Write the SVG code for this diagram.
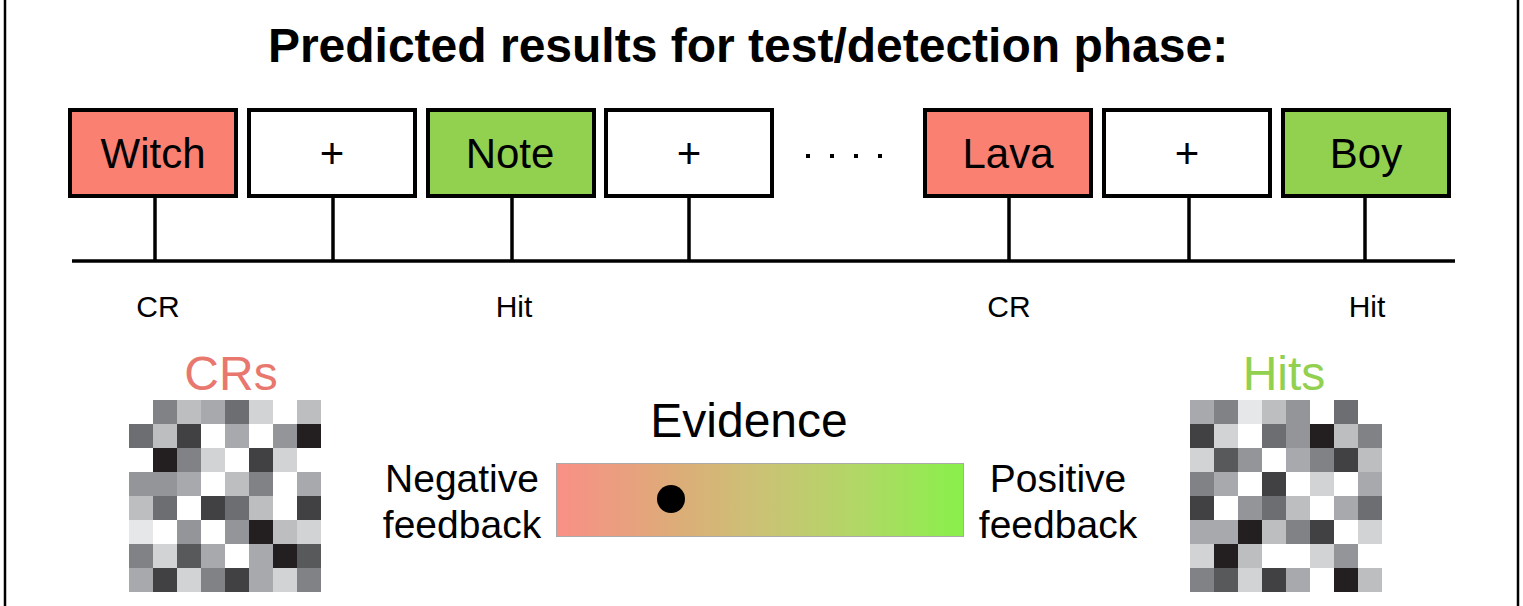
<svg xmlns="http://www.w3.org/2000/svg" width="1523" height="606" viewBox="0 0 1523 606">
<style>
.t{font-family:"Liberation Sans",Arial,sans-serif;fill:#000}
.box{stroke:#000;stroke-width:4}
.red{fill:#fa8072}
.grn{fill:#92d050}
.wht{fill:#fff}
.ln{stroke:#000;stroke-width:3.5;fill:none}
.W{fill:#ffffff}.L1{fill:#e6e7e8}.L2{fill:#d1d3d4}.L3{fill:#bcbec0}.M1{fill:#a7a9ac}.M2{fill:#939598}.M3{fill:#808285}.D1{fill:#6d6e71}.D2{fill:#58595b}.D3{fill:#414042}.D4{fill:#231f20}
</style>
<defs>
<linearGradient id="ev" x1="0" y1="0" x2="1" y2="0">
<stop offset="0" stop-color="#f98f86"/>
<stop offset="0.3" stop-color="#dcad78"/>
<stop offset="0.5" stop-color="#cbc275"/>
<stop offset="0.75" stop-color="#b0d865"/>
<stop offset="1" stop-color="#88f04a"/>
</linearGradient>
</defs>
<rect width="1523" height="606" fill="#fff"/>
<line x1="5" y1="0" x2="5" y2="606" stroke="#000" stroke-width="2.5"/>
<line x1="1518" y1="0" x2="1518" y2="606" stroke="#000" stroke-width="2.5"/>
<text class="t" x="748" y="62" font-size="48" font-weight="bold" text-anchor="middle">Predicted results for test/detection phase:</text>

<g id="connectors">
<line class="ln" x1="72" y1="261" x2="1455" y2="261"/>
<line class="ln" x1="155" y1="196" x2="155" y2="261"/>
<line class="ln" x1="333" y1="196" x2="333" y2="261"/>
<line class="ln" x1="512" y1="196" x2="512" y2="261"/>
<line class="ln" x1="689" y1="196" x2="689" y2="261"/>
<line class="ln" x1="1009" y1="196" x2="1009" y2="261"/>
<line class="ln" x1="1189" y1="196" x2="1189" y2="261"/>
<line class="ln" x1="1365" y1="196" x2="1365" y2="261"/>
</g>

<g id="n-witch"><rect class="box red" x="70" y="110" width="166" height="86"/><text class="t" x="153" y="168" font-size="42" text-anchor="middle">Witch</text></g>
<g id="n-plus1"><rect class="box wht" x="249" y="110" width="166" height="86"/><text class="t" x="332" y="168" font-size="42" text-anchor="middle">+</text></g>
<g id="n-note"><rect class="box grn" x="428" y="110" width="166" height="86"/><text class="t" x="510" y="168" font-size="42" text-anchor="middle">Note</text></g>
<g id="n-plus2"><rect class="box wht" x="606" y="110" width="166" height="86"/><text class="t" x="689" y="168" font-size="42" text-anchor="middle">+</text></g>
<g id="n-dots">
<rect x="806" y="154" width="4" height="4"/><rect x="830" y="154" width="4" height="4"/><rect x="854" y="154" width="4" height="4"/><rect x="878" y="154" width="4" height="4"/>
</g>
<g id="n-lava"><rect class="box red" x="925" y="110" width="166" height="86"/><text class="t" x="1008" y="168" font-size="42" text-anchor="middle">Lava</text></g>
<g id="n-plus3"><rect class="box wht" x="1104" y="110" width="166" height="86"/><text class="t" x="1187" y="168" font-size="42" text-anchor="middle">+</text></g>
<g id="n-boy"><rect class="box grn" x="1283" y="110" width="166" height="86"/><text class="t" x="1366" y="168" font-size="42" text-anchor="middle">Boy</text></g>

<g id="labels">
<text class="t" x="158" y="317" font-size="30" text-anchor="middle">CR</text>
<text class="t" x="514" y="317" font-size="30" text-anchor="middle">Hit</text>
<text class="t" x="1009" y="317" font-size="30" text-anchor="middle">CR</text>
<text class="t" x="1367" y="317" font-size="30" text-anchor="middle">Hit</text>
</g>

<g id="crs">
<text x="231" y="390" font-size="48" text-anchor="middle" style="font-family:'Liberation Sans',Arial,sans-serif;fill:#e8786e">CRs</text>
<g transform="translate(129,400)">
<rect class="W" x="0" y="0" width="24" height="24"/><rect class="M3" x="24" y="0" width="24" height="24"/><rect class="L3" x="48" y="0" width="24" height="24"/><rect class="M1" x="72" y="0" width="24" height="24"/><rect class="D1" x="96" y="0" width="24" height="24"/><rect class="L2" x="120" y="0" width="24" height="24"/><rect class="W" x="144" y="0" width="24" height="24"/><rect class="L3" x="168" y="0" width="24" height="24"/>
<rect class="D1" x="0" y="24" width="24" height="24"/><rect class="L3" x="24" y="24" width="24" height="24"/><rect class="D3" x="48" y="24" width="24" height="24"/><rect class="W" x="72" y="24" width="24" height="24"/><rect class="M1" x="96" y="24" width="24" height="24"/><rect class="W" x="120" y="24" width="24" height="24"/><rect class="M2" x="144" y="24" width="24" height="24"/><rect class="D4" x="168" y="24" width="24" height="24"/>
<rect class="W" x="0" y="48" width="24" height="24"/><rect class="D4" x="24" y="48" width="24" height="24"/><rect class="M3" x="48" y="48" width="24" height="24"/><rect class="L2" x="72" y="48" width="24" height="24"/><rect class="W" x="96" y="48" width="24" height="24"/><rect class="D3" x="120" y="48" width="24" height="24"/><rect class="L2" x="144" y="48" width="24" height="24"/><rect class="W" x="168" y="48" width="24" height="24"/>
<rect class="M2" x="0" y="72" width="24" height="24"/><rect class="M2" x="24" y="72" width="24" height="24"/><rect class="M1" x="48" y="72" width="24" height="24"/><rect class="W" x="72" y="72" width="24" height="24"/><rect class="L3" x="96" y="72" width="24" height="24"/><rect class="M3" x="120" y="72" width="24" height="24"/><rect class="W" x="144" y="72" width="24" height="24"/><rect class="M1" x="168" y="72" width="24" height="24"/>
<rect class="L3" x="0" y="96" width="24" height="24"/><rect class="D1" x="24" y="96" width="24" height="24"/><rect class="W" x="48" y="96" width="24" height="24"/><rect class="D3" x="72" y="96" width="24" height="24"/><rect class="D1" x="96" y="96" width="24" height="24"/><rect class="L3" x="120" y="96" width="24" height="24"/><rect class="W" x="144" y="96" width="24" height="24"/><rect class="D3" x="168" y="96" width="24" height="24"/>
<rect class="L1" x="0" y="120" width="24" height="24"/><rect class="W" x="24" y="120" width="24" height="24"/><rect class="M2" x="48" y="120" width="24" height="24"/><rect class="W" x="72" y="120" width="24" height="24"/><rect class="M2" x="96" y="120" width="24" height="24"/><rect class="D4" x="120" y="120" width="24" height="24"/><rect class="L3" x="144" y="120" width="24" height="24"/><rect class="L2" x="168" y="120" width="24" height="24"/>
<rect class="M3" x="0" y="144" width="24" height="24"/><rect class="L2" x="24" y="144" width="24" height="24"/><rect class="D2" x="48" y="144" width="24" height="24"/><rect class="M1" x="72" y="144" width="24" height="24"/><rect class="W" x="96" y="144" width="24" height="24"/><rect class="M1" x="120" y="144" width="24" height="24"/><rect class="D4" x="144" y="144" width="24" height="24"/><rect class="D2" x="168" y="144" width="24" height="24"/>
<rect class="M1" x="0" y="168" width="24" height="24"/><rect class="D3" x="24" y="168" width="24" height="24"/><rect class="L2" x="48" y="168" width="24" height="24"/><rect class="M3" x="72" y="168" width="24" height="24"/><rect class="D3" x="96" y="168" width="24" height="24"/><rect class="M1" x="120" y="168" width="24" height="24"/><rect class="L2" x="144" y="168" width="24" height="24"/><rect class="M3" x="168" y="168" width="24" height="24"/>
</g>
</g>

<g id="hits">
<text x="1284" y="390" font-size="48" text-anchor="middle" style="font-family:'Liberation Sans',Arial,sans-serif;fill:#92d050">Hits</text>
<g transform="translate(1190,400)">
<rect class="M1" x="0" y="0" width="24" height="24"/><rect class="M3" x="24" y="0" width="24" height="24"/><rect class="L1" x="48" y="0" width="24" height="24"/><rect class="L3" x="72" y="0" width="24" height="24"/><rect class="M2" x="96" y="0" width="24" height="24"/><rect class="W" x="120" y="0" width="24" height="24"/><rect class="D1" x="144" y="0" width="24" height="24"/><rect class="W" x="168" y="0" width="24" height="24"/>
<rect class="D3" x="0" y="24" width="24" height="24"/><rect class="L2" x="24" y="24" width="24" height="24"/><rect class="W" x="48" y="24" width="24" height="24"/><rect class="D1" x="72" y="24" width="24" height="24"/><rect class="M2" x="96" y="24" width="24" height="24"/><rect class="D4" x="120" y="24" width="24" height="24"/><rect class="L3" x="144" y="24" width="24" height="24"/><rect class="M3" x="168" y="24" width="24" height="24"/>
<rect class="L2" x="0" y="48" width="24" height="24"/><rect class="D2" x="24" y="48" width="24" height="24"/><rect class="M2" x="48" y="48" width="24" height="24"/><rect class="W" x="72" y="48" width="24" height="24"/><rect class="M1" x="96" y="48" width="24" height="24"/><rect class="M3" x="120" y="48" width="24" height="24"/><rect class="D3" x="144" y="48" width="24" height="24"/><rect class="L3" x="168" y="48" width="24" height="24"/>
<rect class="M3" x="0" y="72" width="24" height="24"/><rect class="M1" x="24" y="72" width="24" height="24"/><rect class="W" x="48" y="72" width="24" height="24"/><rect class="D3" x="72" y="72" width="24" height="24"/><rect class="W" x="96" y="72" width="24" height="24"/><rect class="L2" x="120" y="72" width="24" height="24"/><rect class="W" x="144" y="72" width="24" height="24"/><rect class="M1" x="168" y="72" width="24" height="24"/>
<rect class="D3" x="0" y="96" width="24" height="24"/><rect class="W" x="24" y="96" width="24" height="24"/><rect class="M2" x="48" y="96" width="24" height="24"/><rect class="D1" x="72" y="96" width="24" height="24"/><rect class="L3" x="96" y="96" width="24" height="24"/><rect class="W" x="120" y="96" width="24" height="24"/><rect class="M1" x="144" y="96" width="24" height="24"/><rect class="D1" x="168" y="96" width="24" height="24"/>
<rect class="M1" x="0" y="120" width="24" height="24"/><rect class="M1" x="24" y="120" width="24" height="24"/><rect class="D4" x="48" y="120" width="24" height="24"/><rect class="L3" x="72" y="120" width="24" height="24"/><rect class="M3" x="96" y="120" width="24" height="24"/><rect class="D3" x="120" y="120" width="24" height="24"/><rect class="W" x="144" y="120" width="24" height="24"/><rect class="L2" x="168" y="120" width="24" height="24"/>
<rect class="L2" x="0" y="144" width="24" height="24"/><rect class="D4" x="24" y="144" width="24" height="24"/><rect class="L3" x="48" y="144" width="24" height="24"/><rect class="W" x="72" y="144" width="24" height="24"/><rect class="W" x="96" y="144" width="24" height="24"/><rect class="L2" x="120" y="144" width="24" height="24"/><rect class="M2" x="144" y="144" width="24" height="24"/><rect class="W" x="168" y="144" width="24" height="24"/>
<rect class="M3" x="0" y="168" width="24" height="24"/><rect class="D2" x="24" y="168" width="24" height="24"/><rect class="L2" x="48" y="168" width="24" height="24"/><rect class="D3" x="72" y="168" width="24" height="24"/><rect class="M1" x="96" y="168" width="24" height="24"/><rect class="W" x="120" y="168" width="24" height="24"/><rect class="D4" x="144" y="168" width="24" height="24"/><rect class="L3" x="168" y="168" width="24" height="24"/>
</g>
</g>

<g id="evidence">
<text class="t" x="749" y="437" font-size="48" text-anchor="middle">Evidence</text>
<rect x="556.5" y="463.5" width="407" height="73" fill="url(#ev)" stroke="#aaaaaa" stroke-width="1"/>
<circle cx="671" cy="499" r="14" fill="#000"/>
<text class="t" x="462" y="492" font-size="39" text-anchor="middle">Negative</text>
<text class="t" x="462" y="538" font-size="39" text-anchor="middle">feedback</text>
<text class="t" x="1058" y="492" font-size="39" text-anchor="middle">Positive</text>
<text class="t" x="1058" y="538" font-size="39" text-anchor="middle">feedback</text>
</g>
</svg>
